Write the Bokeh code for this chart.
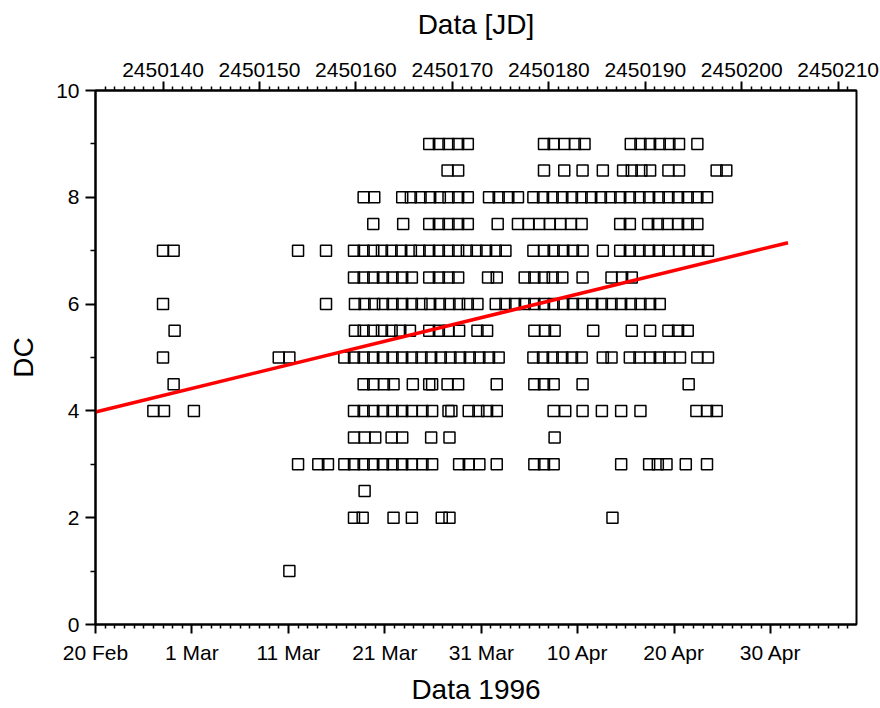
from bokeh.plotting import figure
from bokeh.models import Range1d, LinearAxis, FixedTicker
from bokeh.embed import file_html
from bokeh.resources import INLINE

# ---- data: observation day (days since 20 Feb 1996) for each DC level ----
dc9 = [34.6, 35.6, 36.6, 37.6, 38.6, 46.5, 47.5, 48.6, 49.7, 50.7, 55.5, 56.5, 57.5, 58.5, 59.5, 60.5, 62.4]
dc8_5 = [36.5, 37.6, 46.5, 48.6, 50.5, 52.6, 54.7, 55.6, 56.6, 57.5, 59.4, 60.5, 64.4, 65.4]
dc8 = [27.8, 28.9, 31.8, 32.7, 33.7, 34.7, 35.7, 36.6, 37.6, 38.6, 40.8, 41.8, 42.8, 43.8,
       45.4, 46.4, 47.4, 48.4, 49.4, 50.4, 51.4, 52.4, 53.4, 54.4, 55.4, 56.4, 57.4, 58.4,
       59.4, 60.4, 61.4, 62.4, 63.4]
dc7_5 = [28.8, 31.9, 34.6, 35.6, 36.6, 37.6, 38.6, 41.7, 43.8, 44.9, 46.0, 47.1, 48.2, 49.3,
         50.4, 54.4, 55.4, 57.3, 58.3, 59.3, 60.4, 61.4, 62.4]
dc7 = [7.0, 8.1, 21.0, 23.9, 26.8, 27.8, 28.8, 29.7, 30.7, 31.7, 32.7, 33.6, 34.6, 35.6, 36.6,
       37.6, 38.5, 39.5, 40.5, 41.5, 42.5, 45.4, 46.5, 47.5, 48.5, 49.5, 50.5, 52.6, 54.4,
       55.4, 56.4, 57.4, 58.4, 59.4, 60.5, 61.5, 62.5, 63.5]
dc6_5 = [26.8, 27.8, 28.8, 29.8, 30.8, 31.8, 32.8, 34.6, 35.6, 36.6, 37.6, 40.7, 41.6, 44.5,
         45.5, 46.5, 47.4, 48.4, 50.5, 53.5, 54.6, 55.6]
dc6 = [7.0, 23.9, 26.9, 27.9, 28.9, 29.8, 30.8, 31.8, 32.8, 33.8, 34.7, 35.7, 36.7, 37.7, 38.6,
       39.6, 41.5, 42.5, 43.5, 44.5, 45.5, 46.5, 47.5, 48.5, 49.5, 50.5, 51.5, 52.5, 53.5,
       54.5, 55.5, 56.5, 57.5, 58.5]
dc5_5 = [8.2, 26.9, 27.8, 28.8, 29.7, 30.7, 31.6, 32.6, 34.6, 35.6, 36.6, 37.7, 39.6, 40.6,
         45.5, 46.6, 47.6, 51.6, 55.6, 57.5, 59.4, 60.4, 61.4]
dc5 = [7.0, 19.0, 20.1, 25.8, 26.8, 27.8, 28.8, 29.8, 30.8, 31.8, 32.8, 33.8, 34.8, 35.8, 36.8,
       37.8, 38.8, 39.8, 40.8, 41.8, 45.4, 46.4, 47.4, 48.4, 49.4, 50.4, 52.6, 53.5, 55.4,
       56.4, 57.5, 58.5, 59.5, 60.6, 62.4, 63.5]
dc4_5 = [8.1, 27.8, 28.8, 29.9, 30.9, 32.9, 34.6, 34.9, 36.5, 37.6, 41.6, 45.5, 46.5, 47.5,
         50.5, 61.5]
dc4 = [6.0, 7.1, 10.2, 26.8, 27.8, 28.8, 29.8, 30.8, 31.8, 32.8, 33.9, 34.9, 36.6, 36.9, 38.7,
       39.7, 40.6, 41.6, 47.5, 48.7, 50.5, 52.5, 54.5, 56.5, 62.3, 63.4, 64.4]
dc3_5 = [26.8, 27.9, 29.0, 30.7, 31.8, 34.8, 36.7, 47.6]
dc3 = [21.0, 23.1, 24.1, 25.8, 26.8, 27.8, 28.8, 29.8, 30.8, 31.8, 32.8, 33.9, 34.9, 37.7,
       38.7, 39.8, 41.6, 45.5, 46.5, 47.5, 54.5, 57.4, 58.3, 59.2, 61.2, 63.4]
dc2_5 = [27.9]
dc2 = [26.8, 27.7, 30.9, 32.8, 35.9, 36.7, 53.6]
dc1 = [20.1]

levels = {9.0: dc9, 8.5: dc8_5, 8.0: dc8, 7.5: dc7_5, 7.0: dc7, 6.5: dc6_5, 6.0: dc6,
          5.5: dc5_5, 5.0: dc5, 4.5: dc4_5, 4.0: dc4, 3.5: dc3_5, 3.0: dc3, 2.5: dc2_5,
          2.0: dc2, 1.0: dc1}

# linear fit line (endpoints)
fit_days = [0.0, 71.8]
fit_dc = [3.98, 7.15]

# axes
date_tick_days = [0, 10, 20, 30, 40, 50, 60, 70]
date_tick_labels = ["20 Feb", "1 Mar", "11 Mar", "21 Mar", "31 Mar", "10 Apr", "20 Apr", "30 Apr"]
jd_origin = 2450133  # JD at 20 Feb on the axis
jd_ticks = [2450140, 2450150, 2450160, 2450170, 2450180, 2450190, 2450200, 2450210]
x_max = 78.9
y_ticks = [0, 2, 4, 6, 8, 10]

xs, ys = [], []
for lvl, days in levels.items():
    xs.extend(days)
    ys.extend([lvl] * len(days))

FONT = "Liberation Sans"

p = figure(width=880, height=708, output_backend="svg", toolbar_location=None,
           x_range=Range1d(0, x_max), y_range=Range1d(0, 10),
           min_border_left=95, min_border_right=24, min_border_top=90, min_border_bottom=84,
           x_axis_location=None, y_axis_location=None)
p.grid.visible = False
p.outline_line_color = "black"
p.outline_line_width = 2
p.background_fill_color = "white"
p.border_fill_color = "white"

minor_days = [d for d in range(0, 80) if d % 10 != 0]


def style(ax, title_size="28px", label_size="21px"):
    ax.axis_line_width = 2
    ax.major_tick_line_width = 2
    ax.minor_tick_line_width = 1.5
    ax.major_tick_in = 0
    ax.minor_tick_in = 0
    ax.major_label_text_font = FONT
    ax.major_label_text_font_size = label_size
    ax.major_label_text_color = "black"
    ax.axis_label_text_font = FONT
    ax.axis_label_text_font_size = title_size
    ax.axis_label_text_font_style = "normal"
    ax.axis_label_text_color = "black"


bottom = LinearAxis(axis_label="Data 1996",
                    ticker=FixedTicker(ticks=date_tick_days, minor_ticks=minor_days))
bottom.major_label_overrides = {d: l for d, l in zip(date_tick_days, date_tick_labels)}
style(bottom)
bottom.major_tick_out = 9
bottom.minor_tick_out = 4
bottom.major_label_standoff = 7
bottom.axis_label_standoff = 7
p.add_layout(bottom, "below")

jd_pos = [j - jd_origin for j in jd_ticks]
top = LinearAxis(axis_label="Data [JD]",
                 ticker=FixedTicker(ticks=jd_pos, minor_ticks=[d for d in range(1, 80) if (d - 7) % 10 != 0]))
top.major_label_overrides = {pos: str(j) for pos, j in zip(jd_pos, jd_ticks)}
style(top)
top.major_tick_out = 9
top.minor_tick_out = 4
top.major_label_standoff = 5
top.axis_label_standoff = 20
p.add_layout(top, "above")

left = LinearAxis(axis_label="DC", ticker=FixedTicker(ticks=y_ticks, minor_ticks=[1, 3, 5, 7, 9]))
style(left)
left.major_tick_out = 10
left.minor_tick_out = 5
left.major_label_standoff = 6
left.axis_label_standoff = 14
p.add_layout(left, "left")

p.scatter(xs, ys, marker="square", size=11, fill_color=None, line_color="black", line_width=1.5)
p.line(fit_days, fit_dc, line_color="red", line_width=3.5)

open("out.html", "w").write(file_html(p, INLINE))
